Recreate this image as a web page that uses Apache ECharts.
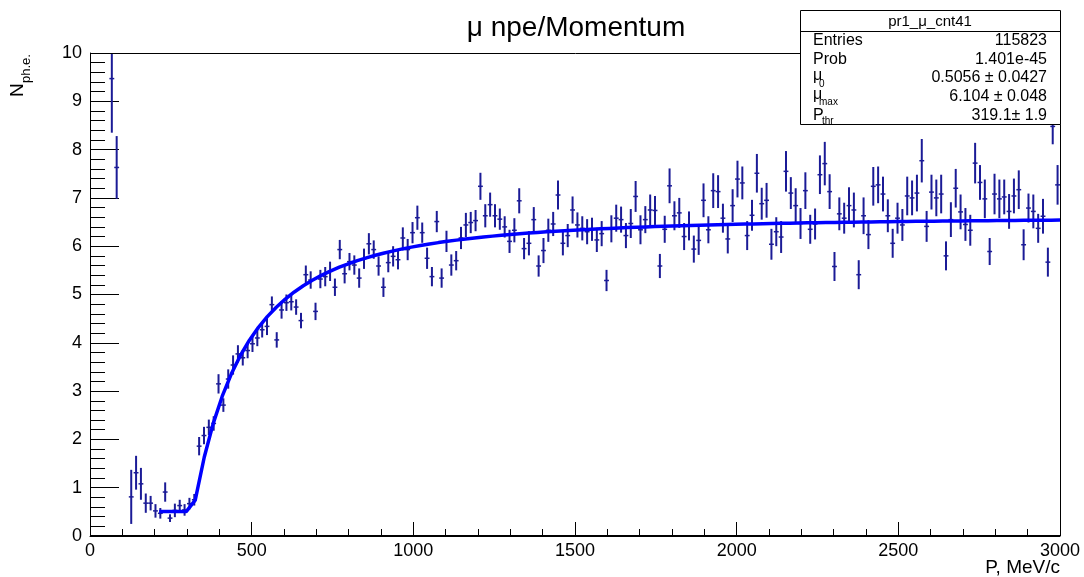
<!DOCTYPE html>
<html>
<head>
<meta charset="utf-8">
<title>μ npe/Momentum</title>
<script src="https://cdn.jsdelivr.net/npm/echarts@6/dist/echarts.min.js"></script>
<style>
  html, body { margin: 0; padding: 0; background: #ffffff; }
  #chart { width: 1084px; height: 577px; }
</style>
</head>
<body>
<div id="chart"></div>
<script>
// Profile histogram: 200 bins of momentum between 0 and 3000 MeV/c
const histRange = [0, 3000];
const nBins = 200;

// Mean number of photo-electrons per bin (null = empty bin)
const npe = [
  null, null, null, null, 9.47, 7.63, null, null, 0.81, 1.31,
  1.08, 0.68, 0.68, 0.52, 0.47, 0.91, 0.37, 0.53, 0.63, 0.54,
  0.67, 0.75, 1.86, 2.08, 2.25, 2.33, 3.15, 2.71, 3.25, 3.54,
  3.77, 3.69, 3.84, 3.98, 4.10, 4.27, 4.34, 4.79, 4.06, 4.68,
  4.83, 4.85, 4.74, 4.46, 5.41, 5.30, 4.65, 5.32, 5.37, 5.48,
  5.15, 5.93, 5.43, 5.68, 5.61, 5.34, 5.74, 6.05, 5.93, 5.59,
  5.15, 5.66, 5.79, 5.72, 6.17, 5.93, 6.28, 6.59, 6.28, 5.75,
  5.37, 6.51, 5.34, 6.10, 5.61, 5.70, 6.17, 6.44, 6.49, 6.53,
  7.24, 6.63, 6.86, 6.63, 6.56, 6.40, 6.10, 6.33, 6.94, 5.95,
  6.06, 6.55, 5.59, 5.91, 6.33, 6.46, 7.06, 6.06, 6.22, 6.75,
  6.44, 6.37, 6.30, 6.35, 6.13, 6.26, 5.29, 6.36, 6.58, 6.55,
  6.22, 6.47, 7.03, 6.34, 6.55, 6.75, 6.74, 5.59, 6.35, 7.25,
  6.63, 6.69, 6.20, 6.42, 5.94, 6.12, 6.95, 6.34, 7.15, 7.13,
  6.58, 6.15, 6.84, 7.39, 7.31, 6.22, 6.64, 7.51, 6.88, 6.95,
  6.04, 6.30, 6.19, 7.55, 7.10, 6.84, 6.47, 7.15, 6.35, 6.46,
  7.48, 7.71, 7.13, 5.58, 6.67, 6.58, 6.84, 6.75, 5.41, 6.63,
  6.24, 7.24, 7.27, 7.08, 6.63, 6.06, 6.58, 6.44, 7.04, 7.00,
  7.10, 7.77, 6.41, 7.12, 7.00, 7.08, 5.80, 6.55, 7.20, 6.71,
  6.45, 6.33, 7.72, 7.32, 6.98, 5.89, 7.08, 6.98, 7.02, 6.72,
  7.04, 7.17, 6.03, 6.79, 6.72, 6.37, 6.62, 5.67, 8.48, 7.27
];

// Error on the mean in each bin
const npeErr = [
  null, null, null, null, 1.12, 0.65, null, null, 0.56, 0.35,
  0.33, 0.20, 0.15, 0.14, 0.11, 0.20, 0.08, 0.14, 0.12, 0.12,
  0.12, 0.12, 0.19, 0.18, 0.16, 0.15, 0.20, 0.14, 0.20, 0.20,
  0.18, 0.16, 0.16, 0.17, 0.17, 0.16, 0.18, 0.17, 0.16, 0.18,
  0.17, 0.18, 0.16, 0.16, 0.19, 0.18, 0.18, 0.19, 0.20, 0.20,
  0.18, 0.20, 0.20, 0.18, 0.20, 0.20, 0.21, 0.22, 0.19, 0.20,
  0.20, 0.20, 0.21, 0.20, 0.22, 0.22, 0.22, 0.25, 0.21, 0.22,
  0.20, 0.22, 0.20, 0.22, 0.22, 0.20, 0.23, 0.25, 0.22, 0.22,
  0.28, 0.24, 0.25, 0.24, 0.22, 0.22, 0.24, 0.25, 0.26, 0.22,
  0.25, 0.26, 0.22, 0.26, 0.24, 0.25, 0.30, 0.25, 0.24, 0.28,
  0.26, 0.25, 0.26, 0.24, 0.25, 0.26, 0.22, 0.28, 0.28, 0.27,
  0.26, 0.30, 0.32, 0.30, 0.28, 0.32, 0.30, 0.25, 0.28, 0.36,
  0.30, 0.31, 0.28, 0.30, 0.28, 0.30, 0.35, 0.28, 0.36, 0.34,
  0.30, 0.30, 0.34, 0.38, 0.34, 0.30, 0.32, 0.40, 0.33, 0.36,
  0.32, 0.30, 0.33, 0.42, 0.33, 0.36, 0.32, 0.38, 0.30, 0.32,
  0.40, 0.45, 0.36, 0.30, 0.34, 0.32, 0.38, 0.36, 0.30, 0.38,
  0.30, 0.40, 0.38, 0.36, 0.34, 0.30, 0.32, 0.33, 0.40, 0.36,
  0.38, 0.45, 0.32, 0.36, 0.38, 0.40, 0.30, 0.36, 0.40, 0.36,
  0.34, 0.32, 0.42, 0.36, 0.40, 0.28, 0.42, 0.40, 0.36, 0.36,
  0.36, 0.40, 0.32, 0.30, 0.35, 0.30, 0.36, 0.30, 0.37, 0.41
];

// Axis tick labels
const xTicks = [0, 500, 1000, 1500, 2000, 2500, 3000];
const yTicks = [0, 1, 2, 3, 4, 5, 6, 7, 8, 9, 10];

// Fit result: mu = mu0 + muMax * (1 - (Pthr / P)^2) above threshold, mu0 below
const fitParams = { mu0: 0.5056, muMax: 6.104, pThr: 319.1 };
const fitRange = [214, 3000];
const fitNpx = 100;

// Statistics box
const statsTitle = 'pr1_\u03bc_cnt41';
const statsRows = [
  { name: 'Entries', sub: '', value: '115823' },
  { name: 'Prob', sub: '', value: '1.401e-45' },
  { name: '\u03bc', sub: '0', value: '0.5056 \u00b1 0.0427' },
  { name: '\u03bc', sub: 'max', value: '6.104 \u00b1 0.048' },
  { name: 'P', sub: 'thr', value: '319.1\u00b1 1.9' }
];

const binWidth = (histRange[1] - histRange[0]) / nBins;
const points = [];
for (let i = 0; i < nBins; i++) {
  if (npe[i] == null) continue;
  points.push([histRange[0] + (i + 0.5) * binWidth, npe[i], npeErr[i]]);
}

function fitFunc(p) {
  const f = fitParams;
  if (p <= f.pThr) return f.mu0;
  return f.mu0 + f.muMax * (1 - (f.pThr / p) * (f.pThr / p));
}
const fitCurve = [];
for (let k = 0; k <= fitNpx; k++) {
  const p = fitRange[0] + (fitRange[1] - fitRange[0]) * k / fitNpx;
  fitCurve.push([p, fitFunc(p)]);
}

const FONT = '"Liberation Sans", Arial, Helvetica, sans-serif';
const pointColor = '#1b1b96';

const chart = echarts.init(document.getElementById('chart'), null, { renderer: 'canvas' });

// Plot frame
const frame = { left: 90, top: 53, width: 970, height: 483 };

// Stats box drawn as graphic elements
const box = { x: 800, y: 10, w: 260, h: 114, titleH: 21 };
const statsElems = [
  { type: 'rect', shape: { x: box.x + 0.5, y: box.y + 0.5, width: box.w, height: box.h },
    style: { fill: '#ffffff', stroke: '#000000', lineWidth: 1 }, z: 100 },
  { type: 'line', shape: { x1: box.x, y1: box.y + box.titleH + 0.5, x2: box.x + box.w, y2: box.y + box.titleH + 0.5 },
    style: { stroke: '#000000', lineWidth: 1 }, z: 101 },
  { type: 'text', x: box.x + box.w / 2, y: box.y + box.titleH / 2 + 1, z: 101,
    style: { text: statsTitle, font: '15px ' + FONT, fill: '#000', align: 'center', verticalAlign: 'middle' } }
];
const rowH = (box.h - box.titleH) / statsRows.length;
statsRows.forEach((r, i) => {
  const cy = box.y + box.titleH + rowH * (i + 0.5) + 0.5;
  const isGreek = r.name === '\u03bc';
  statsElems.push({ type: 'text', x: box.x + 13, y: isGreek ? cy - 2 : cy, z: 101,
    style: { text: r.name, font: '16px ' + FONT, fill: '#000', align: 'left', verticalAlign: 'middle' } });
  if (r.sub) {
    statsElems.push({ type: 'text', x: box.x + (isGreek ? 19 : 22), y: cy + 6, z: 101,
      style: { text: r.sub, font: '10px ' + FONT, fill: '#000', align: 'left', verticalAlign: 'middle' } });
  }
  statsElems.push({ type: 'text', x: box.x + 247, y: cy, z: 101,
    style: { text: r.value, font: '16px ' + FONT, fill: '#000', align: 'right', verticalAlign: 'middle' } });
});

const option = {
  backgroundColor: '#ffffff',
  animation: false,
  grid: { left: frame.left, right: 1084 - frame.left - frame.width, top: frame.top, bottom: 577 - frame.top - frame.height, show: false },
  xAxis: {
    type: 'value', min: xTicks[0], max: xTicks[xTicks.length - 1], interval: xTicks[1] - xTicks[0],
    axisLine: { show: true, lineStyle: { color: '#000', width: 1 } },
    axisTick: { show: true, inside: true, length: 14, lineStyle: { color: '#000', width: 1 } },
    minorTick: { show: true, splitNumber: 5, length: 7, lineStyle: { color: '#000', width: 1 } },
    axisLabel: { color: '#000', fontSize: 18, fontFamily: FONT, margin: 6, formatter: v => String(v) },
    splitLine: { show: false }
  },
  yAxis: {
    type: 'value', min: yTicks[0], max: yTicks[yTicks.length - 1], interval: yTicks[1] - yTicks[0],
    axisLine: { show: true, lineStyle: { color: '#000', width: 1 } },
    axisTick: { show: true, inside: true, length: 29, lineStyle: { color: '#000', width: 1 } },
    minorTick: { show: true, splitNumber: 5, length: 15, lineStyle: { color: '#000', width: 1 } },
    axisLabel: { color: '#000', fontSize: 18, fontFamily: FONT, margin: 8, formatter: v => String(v) },
    splitLine: { show: false }
  },
  series: [
    {
      type: 'custom',
      name: 'profile',
      clip: true,
      data: points,
      z: 3,
      renderItem: function (params, api) {
        const x = api.value(0), v = api.value(1), e = api.value(2);
        const c = api.coord([x, v]);
        const top = api.coord([x, v + e]);
        const bot = api.coord([x, v - e]);
        const half = api.size([binWidth, 0])[0] / 2;
        return {
          type: 'group',
          children: [
            { type: 'line', shape: { x1: c[0], y1: top[1], x2: c[0], y2: bot[1] },
              style: { stroke: pointColor, lineWidth: 2 } },
            { type: 'line', shape: { x1: c[0] - half, y1: c[1], x2: c[0] + half, y2: c[1] },
              style: { stroke: pointColor, lineWidth: 1.5 } }
          ]
        };
      }
    },
    {
      type: 'line',
      name: 'fit',
      data: fitCurve,
      showSymbol: false,
      smooth: false,
      z: 5,
      lineStyle: { color: '#0000ff', width: 3.5 }
    }
  ],
  graphic: [
    { type: 'rect', z: 40, silent: true,
      shape: { x: frame.left + 0.5, y: frame.top + 0.5, width: frame.width, height: frame.height - 1 },
      style: { fill: null, stroke: '#000', lineWidth: 1 } },
    { type: 'text', x: 576, y: 28, z: 50,
      style: { text: '\u03bc npe/Momentum', font: '28px ' + FONT, fill: '#000', align: 'center', verticalAlign: 'middle' } },
    { type: 'text', x: 27, y: 97, rotation: Math.PI / 2, z: 50,
      style: { text: 'N', font: '19px ' + FONT, fill: '#000', align: 'left', verticalAlign: 'bottom' } },
    { type: 'text', x: 33, y: 83, rotation: Math.PI / 2, z: 50,
      style: { text: 'ph.e.', font: '13px ' + FONT, fill: '#000', align: 'left', verticalAlign: 'bottom' } },
    { type: 'text', x: 1060, y: 568, z: 50,
      style: { text: 'P, MeV/c', font: '19px ' + FONT, fill: '#000', align: 'right', verticalAlign: 'middle' } }
  ].concat(statsElems)
};

chart.setOption(option);
</script>
</body>
</html>
